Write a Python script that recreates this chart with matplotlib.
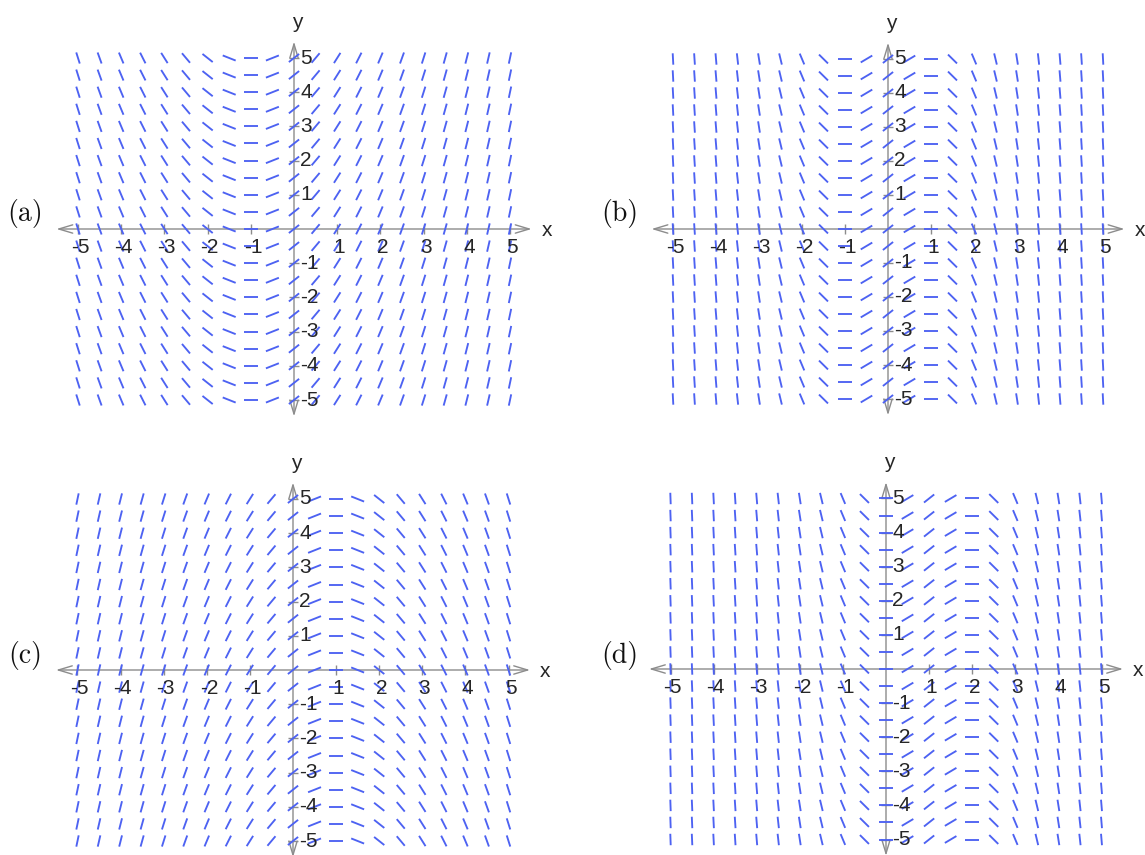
import matplotlib
matplotlib.use("Agg")
import matplotlib.pyplot as plt
import numpy as np
from matplotlib.collections import LineCollection

# grid of sample points for the slope marks
grid_x = [-5, -4.5, -4, -3.5, -3, -2.5, -2, -1.5, -1, -0.5, 0,
          0.5, 1, 1.5, 2, 2.5, 3, 3.5, 4, 4.5, 5]
grid_y = [-5, -4.5, -4, -3.5, -3, -2.5, -2, -1.5, -1, -0.5, 0,
          0.5, 1, 1.5, 2, 2.5, 3, 3.5, 4, 4.5, 5]

# slope of each column (same value all the way up a column)
slopes_a = [-4, -3.5, -3, -2.5, -2, -1.5, -1, -0.5, 0, 0.5, 1,
            1.5, 2, 2.5, 3, 3.5, 4, 4.5, 5, 5.5, 6]
slopes_b = [-24, -19.25, -15, -11.25, -8, -5.25, -3, -1.25, 0, 0.75, 1,
            0.75, 0, -1.25, -3, -5.25, -8, -11.25, -15, -19.25, -24]
slopes_c = [6, 5.5, 5, 4.5, 4, 3.5, 3, 2.5, 2, 1.5, 1,
            0.5, 0, -0.5, -1, -1.5, -2, -2.5, -3, -3.5, -4]
slopes_d = [-35, -29.25, -24, -19.25, -15, -11.25, -8, -5.25, -3, -1.25, 0,
            0.75, 1, 0.75, 0, -1.25, -3, -5.25, -8, -11.25, -15]

tick_vals = [-5, -4, -3, -2, -1, 1, 2, 3, 4, 5]
panel_labels = ["(a)", "(b)", "(c)", "(d)"]

W, H = 1145, 855
fig = plt.figure(figsize=(W / 100, H / 100), dpi=100)

# origin in pixels (from top-left), px per unit along x and y
panels = [
    (slopes_a, 294, 229, 43.2, 34.2, (25, 213)),
    (slopes_b, 888, 229, 43.0, 34.0, (620, 213)),
    (slopes_c, 293, 670, 43.1, 34.2, (25, 655)),
    (slopes_d, 886, 669, 43.1, 34.1, (620, 656)),
]

BLUE = "#4d62f2"
GREY = "#8c8c8c"
TXT = "#262626"
LIM = 6.4
SEG = 0.335  # segment length in data units


def slope_field(ax, slopes):
    segs = []
    for x, m in zip(grid_x, slopes):
        n = np.hypot(1.0, m)
        dx, dy = 0.5 * SEG / n, 0.5 * SEG * m / n
        for y in grid_y:
            segs.append([(x - dx, y - dy), (x + dx, y + dy)])
    lc = LineCollection(segs, colors=BLUE, linewidths=1.35, zorder=3,
                        capstyle="butt")
    ax.add_collection(lc)


for (slopes, ox, oy, ppx, ppy, lab_xy), lab in zip(panels, panel_labels):
    w = 2 * LIM * ppx
    h = 2 * LIM * ppy
    left = (ox - LIM * ppx) / W
    bottom = (H - oy - LIM * ppy) / H
    ax = fig.add_axes([left, bottom, w / W, h / H])
    ax.set_xlim(-LIM, LIM)
    ax.set_ylim(-LIM, LIM)
    ax.axis("off")

    # axes with open arrowheads at both ends
    arrow = dict(arrowstyle="<->,head_length=1.0,head_width=0.3",
                 color=GREY, lw=1.0, shrinkA=0, shrinkB=0)
    ax.annotate("", xy=(5.5, 0), xytext=(-5.5, 0), arrowprops=arrow,
                annotation_clip=False, zorder=2)
    ax.annotate("", xy=(0, 5.48), xytext=(0, -5.48), arrowprops=arrow,
                annotation_clip=False, zorder=2)

    ax.plot(tick_vals, [0] * len(tick_vals), ls="none", marker="|",
            ms=7, mew=1.0, color=GREY, zorder=2)
    ax.plot([0] * len(tick_vals), tick_vals, ls="none", marker="_",
            ms=7, mew=1.0, color=GREY, zorder=2)

    for t in tick_vals:
        ax.text(t + 0.05, -0.55, str(t), ha="center", va="center",
                fontsize=15, family="Liberation Sans", color=TXT,
                zorder=4)
        ax.text(0.15, t, str(t), ha="left", va="center",
                fontsize=15, family="Liberation Sans", color=TXT,
                zorder=4)

    ax.text(5.85, -0.05, "x", ha="center", va="center", fontsize=15,
            family="Liberation Sans", color=TXT)
    ax.text(0.08, 6.05, "y", ha="center", va="center", fontsize=15,
            family="Liberation Sans", color=TXT, clip_on=False)

    slope_field(ax, slopes)

    fig.text(lab_xy[0] / W, 1 - lab_xy[1] / H, lab, ha="center",
             va="center", fontsize=20, family="cmr10", color="#111111")

fig.savefig("out.png", dpi=100)
